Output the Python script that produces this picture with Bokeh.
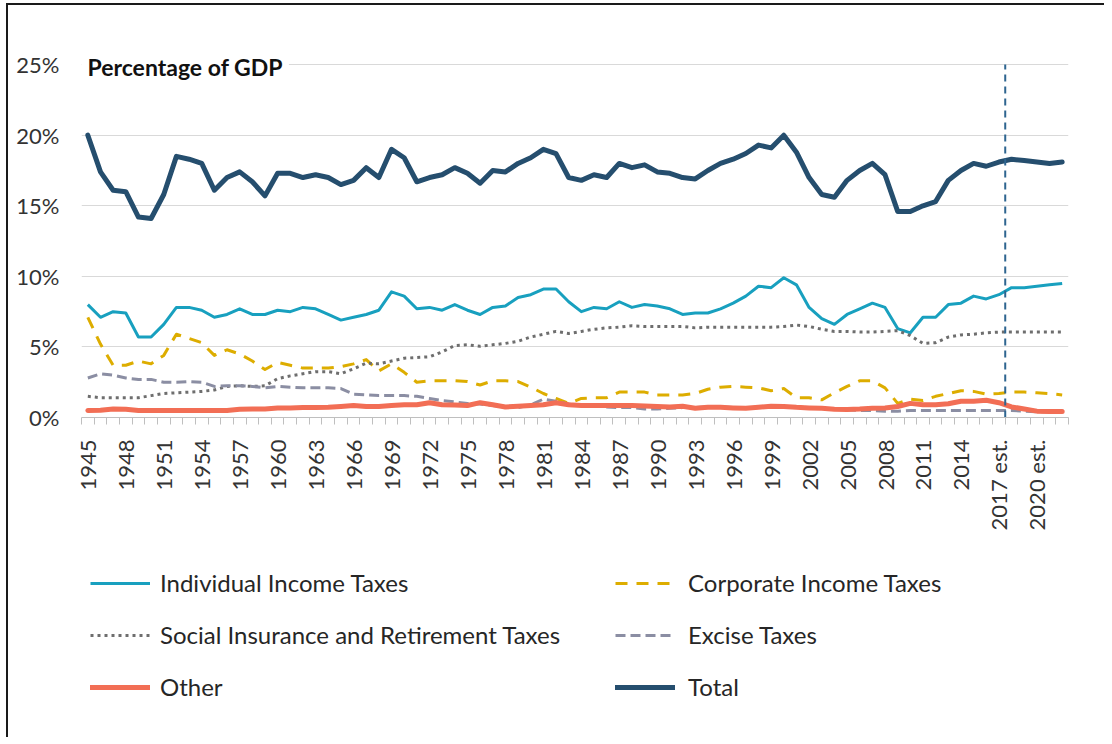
import math
from bokeh.plotting import figure
from bokeh.layouts import column
from bokeh.models import (Range1d, FixedTicker, PrintfTickFormatter, Label,
                          Legend, LegendItem)
from bokeh.embed import file_html
from bokeh.resources import INLINE

# ---------------- data (percentage of GDP) ----------------
categories = [
    "1945", "1946", "1947", "1948", "1949", "1950", "1951", "1952", "1953", "1954",
    "1955", "1956", "1957", "1958", "1959", "1960", "1961", "1962", "1963", "1964",
    "1965", "1966", "1967", "1968", "1969", "1970", "1971", "1972", "1973", "1974",
    "1975", "1976", "1977", "1978", "1979", "1980", "1981", "1982", "1983", "1984",
    "1985", "1986", "1987", "1988", "1989", "1990", "1991", "1992", "1993", "1994",
    "1995", "1996", "1997", "1998", "1999", "2000", "2001", "2002", "2003", "2004",
    "2005", "2006", "2007", "2008", "2009", "2010", "2011", "2012", "2013", "2014",
    "2015", "2016", "2017 est.", "2018 est.", "2019 est.", "2020 est.", "2021 est.",
    "2022 est.",
]

individual = [
    8.0, 7.1, 7.5, 7.4, 5.7, 5.7, 6.6, 7.8, 7.8, 7.6,
    7.1, 7.3, 7.7, 7.3, 7.3, 7.6, 7.5, 7.8, 7.7, 7.3,
    6.9, 7.1, 7.3, 7.6, 8.9, 8.6, 7.7, 7.8, 7.6, 8.0,
    7.6, 7.3, 7.8, 7.9, 8.5, 8.7, 9.1, 9.1, 8.2, 7.5,
    7.8, 7.7, 8.2, 7.8, 8.0, 7.9, 7.7, 7.3, 7.4, 7.4,
    7.7, 8.1, 8.6, 9.3, 9.2, 9.9, 9.4, 7.8, 7.0, 6.6,
    7.3, 7.7, 8.1, 7.8, 6.3, 6.0, 7.1, 7.1, 8.0, 8.1,
    8.6, 8.4, 8.7, 9.2, 9.2, 9.3, 9.4, 9.5,
]

corporate = [
    7.1, 5.2, 3.7, 3.7, 4.0, 3.8, 4.4, 5.9, 5.6, 5.3,
    4.4, 4.8, 4.5, 4.0, 3.4, 3.9, 3.7, 3.5, 3.5, 3.5,
    3.6, 3.8, 4.1, 3.3, 3.8, 3.2, 2.5, 2.6, 2.6, 2.6,
    2.55, 2.3, 2.6, 2.6, 2.55, 2.15, 1.7, 1.35, 1.0, 1.35,
    1.4, 1.4, 1.8, 1.8, 1.8, 1.6, 1.6, 1.6, 1.7, 2.0,
    2.15, 2.2, 2.15, 2.1, 1.9, 2.05, 1.4, 1.4, 1.25, 1.75,
    2.2, 2.6, 2.6, 2.1, 1.0, 1.3, 1.2, 1.5, 1.7, 1.9,
    1.85, 1.65, 1.7, 1.8, 1.8, 1.75, 1.7, 1.6,
]

social = [
    1.5, 1.4, 1.4, 1.4, 1.4, 1.55, 1.7, 1.75, 1.8, 1.85,
    1.95, 2.2, 2.25, 2.2, 2.25, 2.75, 2.95, 3.1, 3.25, 3.25,
    3.1, 3.45, 3.85, 3.8, 4.0, 4.2, 4.25, 4.3, 4.65, 5.1,
    5.15, 5.05, 5.15, 5.25, 5.4, 5.7, 5.9, 6.1, 5.95, 6.1,
    6.25, 6.35, 6.4, 6.5, 6.45, 6.45, 6.45, 6.45, 6.35, 6.4,
    6.4, 6.4, 6.4, 6.4, 6.4, 6.45, 6.55, 6.45, 6.25, 6.1,
    6.1, 6.05, 6.05, 6.1, 6.15, 5.8, 5.25, 5.3, 5.7, 5.85,
    5.9, 6.0, 6.05, 6.05, 6.05, 6.05, 6.05, 6.05,
]

excise = [
    2.8, 3.1, 3.0, 2.8, 2.7, 2.7, 2.5, 2.5, 2.55, 2.5,
    2.2, 2.25, 2.25, 2.2, 2.1, 2.2, 2.15, 2.1, 2.1, 2.1,
    2.05, 1.65, 1.6, 1.55, 1.55, 1.55, 1.5, 1.35, 1.2, 1.1,
    1.0, 0.95, 0.85, 0.75, 0.7, 0.9, 1.3, 1.15, 0.95, 0.85,
    0.85, 0.75, 0.7, 0.7, 0.6, 0.6, 0.65, 0.7, 0.7, 0.75,
    0.75, 0.7, 0.65, 0.7, 0.7, 0.7, 0.7, 0.65, 0.65, 0.6,
    0.55, 0.5, 0.5, 0.45, 0.45, 0.5, 0.5, 0.5, 0.5, 0.5,
    0.5, 0.5, 0.5, 0.5, 0.45, 0.4, 0.4, 0.4,
]

other = [
    0.5, 0.52, 0.6, 0.58, 0.5, 0.5, 0.5, 0.5, 0.5, 0.5,
    0.5, 0.5, 0.58, 0.6, 0.6, 0.68, 0.68, 0.7, 0.7, 0.72,
    0.78, 0.85, 0.78, 0.78, 0.85, 0.9, 0.9, 1.05, 0.9, 0.88,
    0.85, 1.05, 0.9, 0.75, 0.8, 0.85, 0.9, 1.05, 0.9, 0.85,
    0.85, 0.85, 0.85, 0.85, 0.82, 0.78, 0.75, 0.8, 0.65, 0.72,
    0.72, 0.68, 0.65, 0.72, 0.8, 0.78, 0.72, 0.68, 0.65, 0.58,
    0.57, 0.6, 0.65, 0.68, 0.78, 1.0, 0.9, 0.9, 0.97, 1.15,
    1.15, 1.22, 1.05, 0.75, 0.6, 0.45, 0.42, 0.42,
]

total = [
    20.0, 17.4, 16.1, 16.0, 14.2, 14.1, 15.8, 18.5, 18.3, 18.0,
    16.1, 17.0, 17.4, 16.7, 15.7, 17.3, 17.3, 17.0, 17.2, 17.0,
    16.5, 16.8, 17.7, 17.0, 19.0, 18.4, 16.7, 17.0, 17.2, 17.7,
    17.3, 16.6, 17.5, 17.4, 18.0, 18.4, 19.0, 18.7, 17.0, 16.8,
    17.2, 17.0, 18.0, 17.7, 17.9, 17.4, 17.3, 17.0, 16.9, 17.5,
    18.0, 18.3, 18.7, 19.3, 19.1, 20.0, 18.8, 17.0, 15.8, 15.6,
    16.8, 17.5, 18.0, 17.2, 14.6, 14.6, 15.0, 15.3, 16.8, 17.5,
    18.0, 17.8, 18.1, 18.3, 18.2, 18.1, 18.0, 18.1,
]

y_ticks = [0, 5, 10, 15, 20, 25]
y_max = 25
label_every = 3
first_estimate = "2017 est."

# ---------------- derived positions ----------------
n = len(categories)
x = list(range(n))
tick_positions = x[::label_every]
tick_labels = {i: categories[i] for i in tick_positions}
boundaries = [i - 0.5 for i in range(n + 1)]
est_line = categories.index(first_estimate) + 0.5

FONT = "Lato"

STYLES = {
    "Individual Income Taxes": dict(line_color="#18A0BF", line_width=3),
    "Corporate Income Taxes": dict(line_color="#DDAD00", line_width=3, line_dash="12 9"),
    "Social Insurance and Retirement Taxes": dict(line_color="#6E6E6E", line_width=3,
                                                  line_dash="3 4"),
    "Excise Taxes": dict(line_color="#8B8EA3", line_width=3, line_dash="10 5"),
    "Other": dict(line_color="#F26E55", line_width=5, line_cap="round"),
    "Total": dict(line_color="#254E6E", line_width=5, line_cap="round"),
}
series = [
    ("Individual Income Taxes", individual),
    ("Corporate Income Taxes", corporate),
    ("Social Insurance and Retirement Taxes", social),
    ("Excise Taxes", excise),
    ("Other", other),
    ("Total", total),
]

# ---------------- main chart ----------------
# y range a little above 25 % so the heading above the top gridline is not clipped
p = figure(frame_width=987, frame_height=367,
           min_border_left=73, min_border_right=36,
           min_border_top=45, min_border_bottom=130,
           x_range=Range1d(-0.5, n - 0.5), y_range=Range1d(0, 26),
           output_backend="svg", toolbar_location=None)
p.outline_line_color = None
p.background_fill_color = "white"
p.border_fill_color = "white"

p.xgrid.grid_line_color = None
p.ygrid.grid_line_color = "#D9D9D9"
p.ygrid.grid_line_width = 1

xa = p.xaxis[0]
xa.ticker = FixedTicker(ticks=tick_positions, minor_ticks=boundaries)
xa.major_label_overrides = tick_labels
xa.major_label_orientation = math.pi / 2
xa.major_tick_line_color = None
xa.major_tick_in = 0
xa.major_tick_out = 0
xa.minor_tick_line_color = "#BFBFBF"
xa.minor_tick_in = 0
xa.minor_tick_out = 7
xa.axis_line_color = "#BFBFBF"
xa.major_label_standoff = 15
xa.major_label_text_font = FONT
xa.major_label_text_font_size = "22px"
xa.major_label_text_color = "#333333"

ya = p.yaxis[0]
ya.ticker = FixedTicker(ticks=y_ticks)
ya.formatter = PrintfTickFormatter(format="%d%%")
ya.axis_line_color = None
ya.major_tick_line_color = None
ya.minor_tick_line_color = None
ya.major_tick_out = 0
ya.major_tick_in = 0
ya.major_label_standoff = 22
ya.major_label_text_font = FONT
ya.major_label_text_font_size = "22px"
ya.major_label_text_color = "#333333"

for name, values in series:
    p.line(x, values, line_join="round", **STYLES[name])

# boundary between actual and estimated years
p.segment(x0=[est_line], y0=[0], x1=[est_line], y1=[y_max], line_color="#2E6590",
          line_width=2, line_dash="7 5")

p.add_layout(Label(x=0, y=351, x_units="screen", y_units="screen",
                   text="Percentage of GDP", text_font=FONT, text_font_style="bold",
                   text_font_size="23px", text_color="#111111", text_baseline="middle",
                   background_fill_color="white", padding=6))

# ---------------- legend panel ----------------
# the series are drawn again here only as legend swatches; the panel's
# y range lies far above the data so the lines themselves stay out of view
lw, lh = 1096, 190
leg = figure(frame_width=lw, frame_height=lh, min_border=0,
             x_range=Range1d(-0.5, n - 0.5), y_range=Range1d(1000, 1100),
             x_axis_location=None, y_axis_location=None,
             output_backend="svg", toolbar_location=None)
leg.outline_line_color = None
leg.grid.visible = False

swatch = {name: leg.line(x, values, **STYLES[name]) for name, values in series}

common = dict(orientation="vertical", glyph_width=60, glyph_height=28, label_height=28,
              spacing=23, padding=0, margin=0,
              border_line_color=None, background_fill_alpha=0,
              label_text_font=FONT, label_text_font_size="24px",
              label_text_color="#262626")
left_names = ["Individual Income Taxes", "Social Insurance and Retirement Taxes", "Other"]
right_names = ["Corporate Income Taxes", "Excise Taxes", "Total"]
leg.add_layout(Legend(items=[LegendItem(label=nm, renderers=[swatch[nm]]) for nm in left_names],
                      location=(82, 36), label_standoff=10, **common))
leg.add_layout(Legend(items=[LegendItem(label=nm, renderers=[swatch[nm]]) for nm in right_names],
                      location=(607, 36), label_standoff=13, **common))

layout = column(p, leg, spacing=0,
                styles={"margin": "3px 0 0 6px",
                        "border-top": "2px solid #1a1a1a",
                        "border-left": "2px solid #1a1a1a"})

open("out.html", "w").write(file_html(layout, INLINE))
